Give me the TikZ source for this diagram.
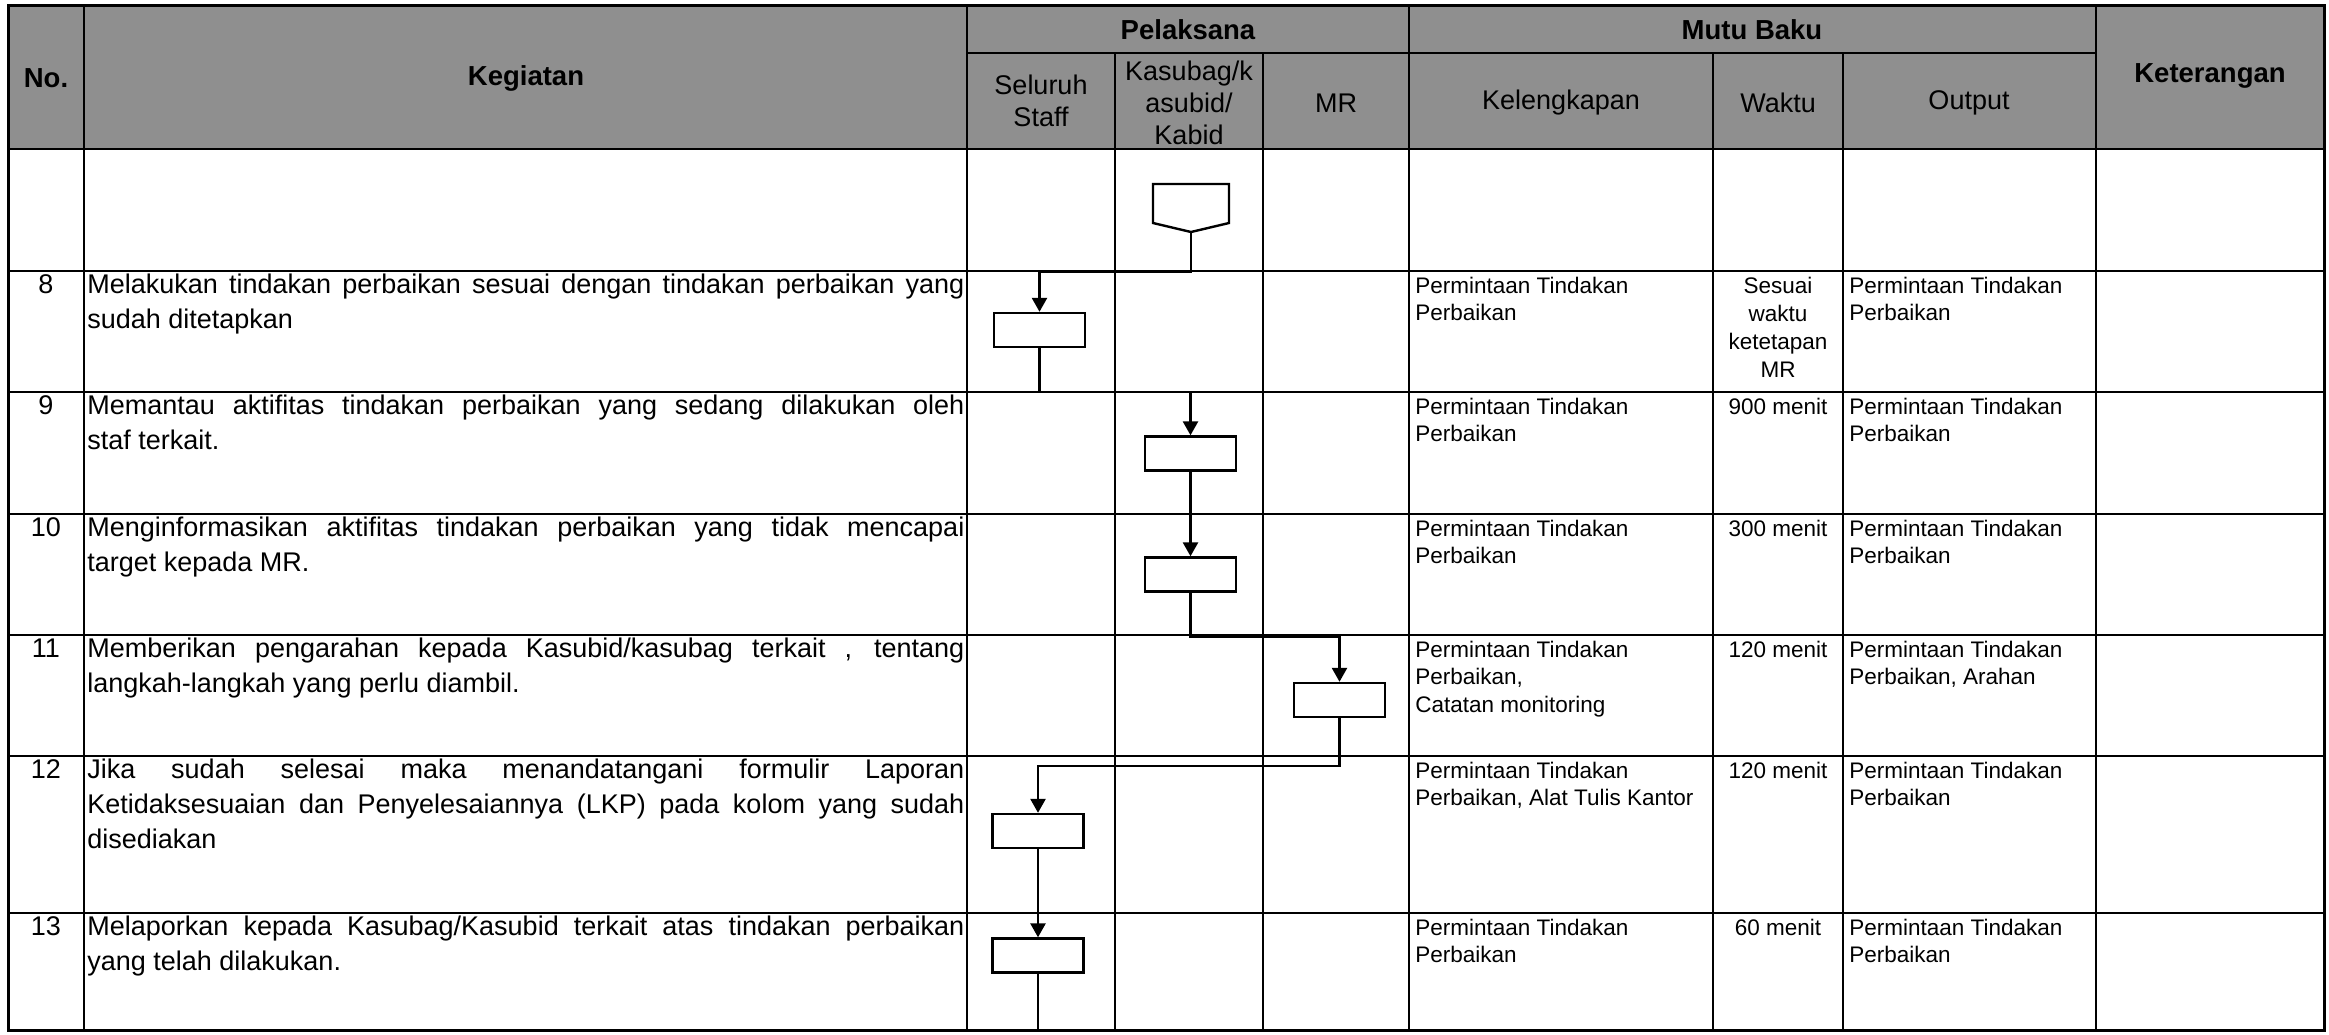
\documentclass[tikz,border=0pt]{standalone}
\usepackage{fontspec}
\setmainfont{Liberation Sans}
\usetikzlibrary{arrows.meta}
\definecolor{hdr}{gray}{0.56}
\hyphenpenalty=10000
\exhyphenpenalty=10000
\begin{document}
\begin{tikzpicture}[x=0.5pt,y=-0.5pt,
  grid/.style={line width=1.2pt},
  outer/.style={line width=1.5pt},
  hbold/.style={font=\fontsize{13.75}{16}\selectfont\bfseries, align=center, inner sep=0},
  hsub/.style={font=\fontsize{13.5}{16}\selectfont, align=center, inner sep=0},
  keg/.style={anchor=base west, text width=438.5pt, align=justify, inner sep=0,
    font=\fontsize{13.5}{17.5}\selectfont},
  num/.style={anchor=base, inner sep=0, font=\fontsize{13.5}{17.5}\selectfont},
  kel/.style={anchor=base west, text width=145pt, align=flush left, inner sep=0,
    font=\fontsize{11.25}{13.75}\selectfont},
  outp/.style={anchor=base west, text width=120pt, align=flush left, inner sep=0,
    font=\fontsize{11.25}{13.75}\selectfont},
  wkt/.style={anchor=base, text width=62pt, align=flush center, inner sep=0,
    font=\fontsize{11.25}{14}\selectfont},
  fbox/.style={draw, line width=1.2pt, fill=white, minimum width=45.5pt, minimum height=17pt, inner sep=0},
  conn/.style={line width=1.3pt},
  connarr/.style={line width=1.3pt, -{Triangle[length=7pt,width=7.5pt]}}
]
\useasboundingbox (0,0) rectangle (2329,1034);
% header background
\fill[hdr] (8,5) rectangle (2324,149);
% horizontal grid lines
\draw[grid] (967,53) -- (2096,53);
\foreach \yy in {149,271,392,514,635,756,913} {\draw[grid] (8,\yy) -- (2324,\yy);}
% vertical grid lines
\foreach \xx in {84,967,1409,2096} {\draw[grid] (\xx,5) -- (\xx,1030);}
\foreach \xx in {1115,1263,1713,1843} {\draw[grid] (\xx,53) -- (\xx,1030);}
\draw[outer] (8,5) rectangle (2324,1030);

% header texts
\node[hbold] (hno) at (46,78) {No.};
\node[hbold] (hkeg) at (526,78) {Kegiatan};
\node[hbold] (hpel) at (1188,30) {Pelaksana};
\node[hbold] (hmutu) at (1752,30) {Mutu Baku};
\node[hbold] (hket) at (2210,76) {Keterangan};
\node[hsub] (hstaff) at (1041,101) {Seluruh\\Staff};
\node[hsub] (hkasub) at (1189,103) {Kasubag/k\\asubid/\\Kabid};
\node[hsub] (hmr) at (1336,103) {MR};
\node[hsub] (hkel) at (1561,103) {Kelengkapan};
\node[hsub] (hwkt) at (1778,103) {Waktu};
\node[hsub] (hout) at (1969,103) {Output};

% row 8
\node[num] (n8) at (46,293) {8};
\node[keg] (k8) at (87,293) {Melakukan tindakan perbaikan sesuai dengan tindakan perbaikan yang\linebreak sudah ditetapkan};
\node[kel] (l8) at (1415,293) {Permintaan Tindakan\\Perbaikan};
\node[wkt] (w8) at (1778,293) {Sesuai\\waktu\\ketetapan\\MR};
\node[outp] (o8) at (1849,293) {Permintaan Tindakan\\Perbaikan};
% row 9
\node[num] (n9) at (46,414) {9};
\node[keg] (k9) at (87,414) {Memantau aktifitas tindakan perbaikan yang sedang dilakukan oleh\linebreak staf terkait.};
\node[kel] (l9) at (1415,414) {Permintaan Tindakan\\Perbaikan};
\node[wkt] (w9) at (1778,414) {900 menit};
\node[outp] (o9) at (1849,414) {Permintaan Tindakan\\Perbaikan};
% row 10
\node[num] (n10) at (46,536) {10};
\node[keg] (k10) at (87,536) {Menginformasikan aktifitas tindakan perbaikan yang tidak mencapai\linebreak target kepada MR.};
\node[kel] (l10) at (1415,536) {Permintaan Tindakan\\Perbaikan};
\node[wkt] (w10) at (1778,536) {300 menit};
\node[outp] (o10) at (1849,536) {Permintaan Tindakan\\Perbaikan};
% row 11
\node[num] (n11) at (46,657) {11};
\node[keg] (k11) at (87,657) {Memberikan pengarahan kepada Kasubid/kasubag terkait , tentang\linebreak langkah-langkah yang perlu diambil.};
\node[kel] (l11) at (1415,657) {Permintaan Tindakan\\Perbaikan,\\Catatan monitoring};
\node[wkt] (w11) at (1778,657) {120 menit};
\node[outp] (o11) at (1849,657) {Permintaan Tindakan\\Perbaikan, Arahan};
% row 12
\node[num] (n12) at (46,778) {12};
\node[keg] (k12) at (87,778) {Jika sudah selesai maka menandatangani formulir Laporan\linebreak Ketidaksesuaian dan Penyelesaiannya (LKP) pada kolom yang sudah\linebreak disediakan};
\node[kel] (l12) at (1415,778) {Permintaan Tindakan\\Perbaikan, Alat Tulis Kantor};
\node[wkt] (w12) at (1778,778) {120 menit};
\node[outp] (o12) at (1849,778) {Permintaan Tindakan\\Perbaikan};
% row 13
\node[num] (n13) at (46,935) {13};
\node[keg] (k13) at (87,935) {Melaporkan kepada Kasubag/Kasubid terkait atas tindakan perbaikan\linebreak yang telah dilakukan.};
\node[kel] (l13) at (1415,935) {Permintaan Tindakan\\Perbaikan};
\node[wkt] (w13) at (1778,935) {60 menit};
\node[outp] (o13) at (1849,935) {Permintaan Tindakan\\Perbaikan};

% flowchart
\draw[line width=1.2pt] (1153,184) -- (1229,184) -- (1229,223) -- (1191,232) -- (1153,223) -- cycle;
\coordinate (off) at (1191,232);
\node[fbox] (b8) at (1039.5,330) {};
\node[fbox] (b9) at (1190.5,453.5) {};
\node[fbox] (b10) at (1190.5,574.5) {};
\node[fbox] (b11) at (1339.5,700) {};
\node[fbox] (b12) at (1038,831) {};
\node[fbox] (b13) at (1038,955.5) {};
\coordinate (endpt) at (1038,1030);

\draw[connarr] (off) -- (off |- 0,272) -| (b8.north);
\draw[connarr] (b8.south) -- (b8.south |- 0,392) -| (b9.north);
\draw[connarr] (b9.south) -- (b10.north);
\draw[connarr] (b10.south) -- (b10.south |- 0,637) -| (b11.north);
\draw[connarr] (b11.south) -- (b11.south |- 0,766) -| (b12.north);
\draw[connarr] (b12.south) -- (b13.north);
\draw[conn] (b13.south) -- (endpt);
\end{tikzpicture}
\end{document}
